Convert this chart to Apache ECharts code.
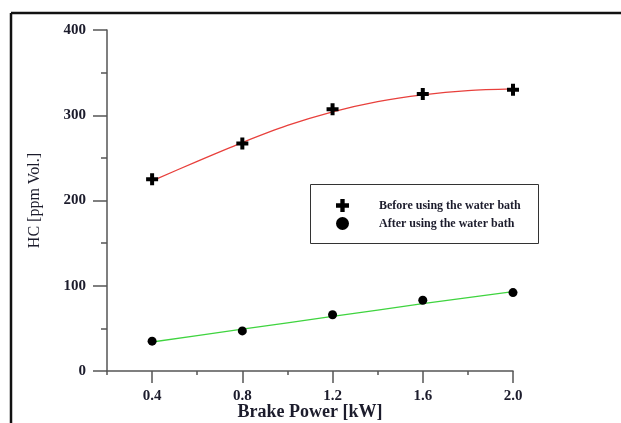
<!DOCTYPE html>
<html>
<head>
<meta charset="utf-8">
<script src="https://cdn.jsdelivr.net/npm/echarts@6/dist/echarts.min.js"></script>
<style>
  html, body { margin: 0; padding: 0; background: #fff; }
  #main { width: 621px; height: 423px; }
</style>
</head>
<body>
<div id="main"></div>
<script>
  // brake power [kW]
  var power = [0.4, 0.8, 1.2, 1.6, 2.0]
  // HC measured points
  var beforeBath = [225, 267, 307, 325, 330]
  var afterBath = [35, 47, 66, 83, 92]
  // fitted curves, every 0.2 kW
  var fitPower = [0.4, 0.6, 0.8, 1.0, 1.2, 1.4, 1.6, 1.8, 2.0]
  var beforeFit = [223, 246, 268, 288, 304, 316, 324, 329, 331]
  var afterFit = [34, 41.5, 49, 56.5, 64, 71.5, 79, 86, 93]
  var majorX = [0.4, 0.8, 1.2, 1.6, 2.0]
  var minorX = [0.2, 0.6, 1.0, 1.4, 1.8]

  var seriesNames = ['Before using the water bath', 'After using the water bath']
  var axisColor = '#555'
  var textColor = '#1c1c2c'
  var serif = '"Liberation Serif", "DejaVu Serif", serif'
  var plusPath = 'path://M4,0h4v4h4v4h-4v4h-4v-4h-4v-4h4z'

  function pairs(xs, ys) {
    var out = []
    xs.forEach(function (x, i) { out.push([x, ys[i]]) })
    return out
  }

  var myChart = echarts.init(document.getElementById('main'))
  var option = {
    backgroundColor: '#fff',
    animation: false,
    grid: { left: 107, right: 108, top: 30, bottom: 52, outerBoundsMode: 'none' },
    legend: {
      data: [
        { name: seriesNames[0], icon: plusPath },
        { name: seriesNames[1], icon: 'circle' }
      ],
      orient: 'vertical',
      left: 336,
      top: 199,
      itemWidth: 13,
      itemHeight: 13,
      itemGap: 5,
      padding: 0,
      itemStyle: { opacity: 1 },
      textStyle: {
        fontFamily: serif,
        fontWeight: 'bold',
        fontSize: 12,
        color: textColor,
        padding: [0, 0, 0, 25]
      }
    },
    xAxis: [{
      type: 'value',
      min: 0.2,
      max: 2.0,
      name: 'Brake Power [kW]',
      nameLocation: 'middle',
      nameGap: 32,
      nameMoveOverlap: false,
      nameTextStyle: { fontFamily: serif, fontWeight: 'bold', fontSize: 18, color: textColor },
      axisLine: { lineStyle: { color: axisColor, width: 1.5 } },
      axisTick: { customValues: majorX, length: 12, lineStyle: { color: axisColor, width: 1.5 } },
      axisLabel: {
        customValues: majorX,
        margin: 18,
        fontFamily: serif,
        fontWeight: 'bold',
        fontSize: 15,
        color: textColor,
        formatter: function (v) { return v.toFixed(1) }
      },
      splitLine: { show: false }
    }, {
      // short ticks in between
      type: 'value',
      min: 0.2,
      max: 2.0,
      position: 'bottom',
      axisLine: { show: false },
      axisTick: { customValues: minorX, length: 4, lineStyle: { color: axisColor, width: 1.5 } },
      axisLabel: { show: false },
      splitLine: { show: false }
    }],
    yAxis: {
      type: 'value',
      min: 0,
      max: 400,
      interval: 100,
      name: 'HC [ppm Vol.]',
      nameLocation: 'middle',
      nameGap: 64,
      nameTextStyle: { fontFamily: serif, fontSize: 16, color: textColor },
      axisLine: { show: true, lineStyle: { color: axisColor, width: 1.5 } },
      axisTick: { show: true, length: 14, lineStyle: { color: axisColor, width: 1.5 } },
      minorTick: { show: true, splitNumber: 2, length: 6, lineStyle: { color: axisColor, width: 1.5 } },
      axisLabel: { margin: 21, fontFamily: serif, fontWeight: 'bold', fontSize: 15, color: textColor },
      splitLine: { show: false }
    },
    graphic: [
      // partial outer frame
      { type: 'line', shape: { x1: 11, y1: 13, x2: 621, y2: 13 }, style: { stroke: '#111', lineWidth: 2.5 } },
      { type: 'line', shape: { x1: 11, y1: 13, x2: 11, y2: 423 }, style: { stroke: '#111', lineWidth: 2.5 } },
      // legend box
      { type: 'rect', shape: { x: 310.5, y: 184.5, width: 228, height: 59 }, style: { fill: 'none', stroke: '#333', lineWidth: 1 }, z: 5 }
    ],
    series: [{
      name: 'beforeFit',
      type: 'line',
      smooth: 0.3,
      showSymbol: false,
      data: pairs(fitPower, beforeFit),
      lineStyle: { color: '#e8403c', width: 1.3 },
      z: 2
    }, {
      name: 'afterFit',
      type: 'line',
      smooth: false,
      showSymbol: false,
      data: pairs(fitPower, afterFit),
      lineStyle: { color: '#3fd43f', width: 1.3 },
      z: 2
    }, {
      name: seriesNames[0],
      type: 'scatter',
      symbol: plusPath,
      symbolSize: 12,
      data: pairs(power, beforeBath),
      itemStyle: { color: '#000', opacity: 1 },
      z: 3
    }, {
      name: seriesNames[1],
      type: 'scatter',
      symbol: 'circle',
      symbolSize: 9,
      data: pairs(power, afterBath),
      itemStyle: { color: '#000', opacity: 1 },
      z: 3
    }]
  }
  myChart.setOption(option)
</script>
</body>
</html>
